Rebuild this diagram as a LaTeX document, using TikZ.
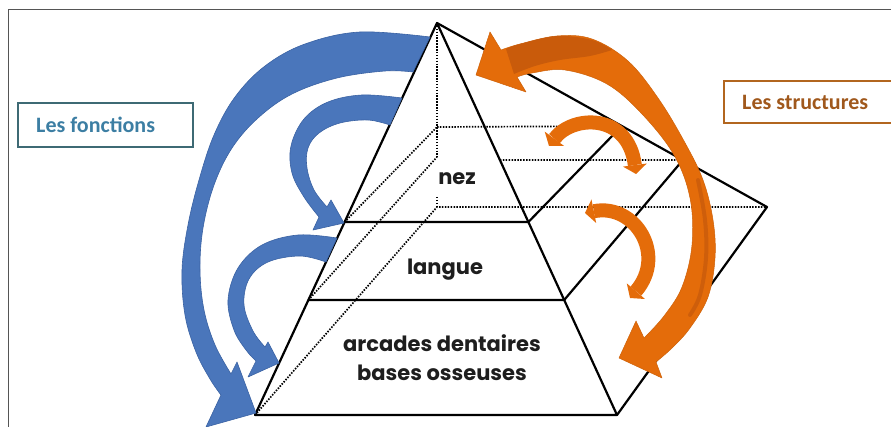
\documentclass[tikz,border=0pt]{standalone}
\usepackage{fontspec}
\setmainfont{Poppins}
\newfontfamily\labelfont{Carlito}
\usetikzlibrary{arrows.meta,calc}

\definecolor{funcblue}{HTML}{4A76BB}
\definecolor{funcedge}{HTML}{3A62A3}
\definecolor{structorange}{HTML}{E46C0A}
\definecolor{structdark}{HTML}{C0560C}
\definecolor{fonctionstext}{HTML}{3C7EA3}
\definecolor{fonctionsframe}{HTML}{3E6A74}
\definecolor{structtext}{HTML}{A0581C}
\definecolor{structframe}{HTML}{B2661F}
\definecolor{framegray}{HTML}{555555}
\definecolor{layerink}{HTML}{1E1E1E}

\tikzset{smalltip/.tip={Triangle[width=24pt,length=9pt,line width=0pt]}}

\begin{document}
\begin{tikzpicture}[x=1pt,y=-1pt,
  edge/.style={line width=2.2pt, line join=round, line cap=round},
  hidden/.style={line width=1.7pt, dash pattern=on 1.5pt off 1.4pt},
  bluearrow/.style={fill=funcblue, draw=funcedge, line width=0.6pt, line join=round},
  orangearrow/.style={fill=structorange, draw=structorange!90!black, line width=0.5pt, line join=round},
  orangeline/.style={draw=structorange, line width=14pt},
  layertext/.style={text=layerink, font=\bfseries\fontsize{21}{24}\selectfont, inner sep=0pt},
  labeltext/.style={font=\labelfont\bfseries\fontsize{22}{26}\selectfont, inner sep=0pt},
]
\useasboundingbox (0,0) rectangle (891,427);
\clip (0,0) rectangle (891,427);

% slide frame
\draw[framegray, line width=1pt] (8,427) -- (8,10) -- (891,10);

% pyramid corners
\coordinate (apex) at (437,23);
\coordinate (fl) at (255,415);
\coordinate (fr) at (617,415);
\coordinate (br) at (767,207);
\coordinate (bl) at (437,207);
\coordinate (bltick) at (437,197);
% upper section (nez)
\coordinate (n1) at ($(apex)!0.5077!(fl)$);
\coordinate (n2) at ($(apex)!0.5077!(fr)$);
\coordinate (n3) at ($(apex)!0.56!(br)$);
\coordinate (n4) at (437,127);
% middle section (langue)
\coordinate (l1) at ($(apex)!0.7066!(fl)$);
\coordinate (l2) at ($(apex)!0.7066!(fr)$);
\coordinate (l3) at ($(apex)!0.745!(br)$);
\coordinate (l4) at (437,157);
\coordinate (l5) at ($(apex)!0.3495!(fr)$);

% hidden edges
\draw[hidden] (apex) -- (l4);
\draw[hidden] (n4) -- (n3);
\draw[hidden] (n1) -- (n4);
\draw[hidden] (l1) -- (l4);
\draw[hidden] (l5) -- (l3);
\draw[hidden] (fl) -- (bl) -- (br);
\draw[hidden] (bltick) -- (bl);

% visible edges
\draw[edge] (fl) -- (apex) -- (fr) -- cycle;
\draw[edge] (apex) -- (br) -- (fr);
\draw[edge] (n1) -- (n2) -- (n3);
\draw[edge] (l1) -- (l2) -- (l3);

% layer names
\node[layertext, anchor=base] (nez) at (457,185) {nez};
\node[layertext, anchor=base] (langue) at (445,275) {langue};
\node[layertext, anchor=base] (arcades) at (442,352) {arcades dentaires};
\node[layertext, anchor=base] (bases) at (442,380) {bases osseuses};

% functions: blue arrows
\fill[bluearrow] plot[smooth, tension=0.6] coordinates {(430,37) (360,32) (305,44) (265,66) (235,97) (214,135) (199,180) (188,225) (182,270) (185,315) (196,352) (210,379) (221,395)}
  -- (206,427) -- (256,413) -- (237,362) -- (231,374)
  -- plot[smooth, tension=0.6] coordinates {(231,374) (215,345) (204,310) (200,270) (203,228) (214,185) (232,148) (258,118) (292,94) (337,78) (385,71) (413,72)}
  -- cycle;
\fill[bluearrow] plot[smooth, tension=0.6] coordinates {(402,98) (362,95) (328,102) (304,119) (291,146) (292,173) (304,197) (319,217)}
  -- (313,230) -- (344,223) -- (331,200) -- (327,207)
  -- plot[smooth, tension=0.6] coordinates {(327,207) (314,190) (307,168) (308,148) (319,133) (340,123) (368,120) (390,125)}
  -- cycle;
\fill[bluearrow] plot[smooth, tension=0.6] coordinates {(337,238) (298,235) (262,245) (238,268) (228,300) (234,330) (246,350) (256,361)}
  -- (248,377) -- (279,363) -- (268,342) -- (265,347)
  -- plot[smooth, tension=0.6] coordinates {(265,347) (253,331) (244,305) (249,279) (268,262) (300,256) (326,262)}
  -- cycle;

% structures: orange arrows
\fill[orangearrow] plot[smooth, tension=0.6] coordinates {(501,50) (520,44) (557,36) (592,39) (628,61) (658,98) (684,141) (703,180) (713,220) (715,258) (708,297) (690,328) (672,348) (656,362)}
  -- (662,378) -- (619,358) -- (636,321) -- (644,338)
  -- plot[smooth, tension=0.6] coordinates {(644,338) (664,316) (682,287) (692,245) (690,198) (674,155) (642,114) (607,84) (565,70) (532,73) (517,77)}
  -- (526,92) -- (476,75) -- (490,32) -- cycle;
\fill[structdark, opacity=0.75] plot[smooth, tension=0.6] coordinates {(506,49) (520,44) (557,36) (592,40) (612,50)}
  -- plot[smooth, tension=0.6] coordinates {(612,50) (590,56) (560,60) (535,66) (514,74)} -- cycle;
\draw[structdark, opacity=0.6, line width=4pt, line cap=round] plot[smooth, tension=0.6] coordinates {(698,180) (705,220) (706,258) (700,295) (690,315)};

\draw[orangeline, {smalltip}-{smalltip}] (549,146) .. controls (572,115) and (628,112) .. (636,174);
\draw[orangeline, {smalltip}-{smalltip}] (585,213) .. controls (635,203) and (667,255) .. (630,298);

% category labels
\draw[fonctionsframe, line width=1.8pt] (18,103) rectangle (193,147);
\node[labeltext, text=fonctionstext, anchor=base west] (fonctions) at (36,133) {Les fonctions};
\draw[structframe, line width=1.8pt] (900,81) -- (724,81) -- (724,123) -- (900,123);
\node[labeltext, text=structtext, anchor=base west] (structures) at (742,110) {Les structures};
\end{tikzpicture}
\end{document}
